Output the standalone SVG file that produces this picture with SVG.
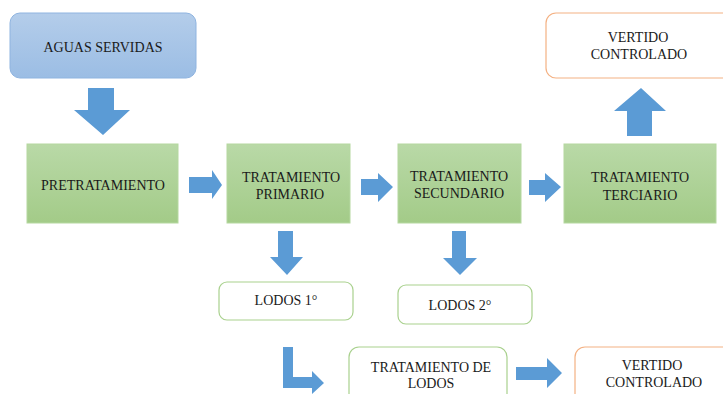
<svg xmlns="http://www.w3.org/2000/svg" width="723" height="394" viewBox="0 0 723 394" font-family="'Liberation Serif', 'Times New Roman', serif">
<defs>
<linearGradient id="gBlue" x1="0" y1="0" x2="0" y2="1"><stop offset="0" stop-color="#b4cdea"/><stop offset="1" stop-color="#9bbde4"/></linearGradient>
<linearGradient id="gGreen" x1="0" y1="0" x2="0" y2="1"><stop offset="0" stop-color="#b9d9a7"/><stop offset="1" stop-color="#a3cb88"/></linearGradient>
</defs>
<style>
text{font-family:'Liberation Serif','Times New Roman',serif;font-size:14px;fill:#1a1a1a;text-anchor:middle}
.blue{fill:url(#gBlue);stroke:#8fb4e0;stroke-width:1}
.green{fill:url(#gGreen);stroke:#b5d8a0;stroke-width:1}
.gout{fill:#fff;stroke:#a9d18e;stroke-width:1.2}
.oout{fill:#fff;stroke:#f4b183;stroke-width:1.2}
.arr{fill:#5b9bd5;stroke:none}
</style>
<g id="aguas"><rect class="blue" x="10" y="13" width="186" height="65" rx="10"/><text x="103" y="52">AGUAS SERVIDAS</text></g>
<g id="vertido1"><rect class="oout" x="546" y="13" width="190" height="65" rx="10"/><text x="638" y="42">VERTIDO</text><text x="639" y="59">CONTROLADO</text></g>
<g id="pretratamiento"><rect class="green" x="27" y="144" width="151" height="79"/><text x="103" y="190">PRETRATAMIENTO</text></g>
<g id="primario"><rect class="green" x="227" y="144" width="123" height="79"/><text x="291" y="182">TRATAMIENTO</text><text x="290" y="199">PRIMARIO</text></g>
<g id="secundario"><rect class="green" x="398" y="144" width="123" height="79"/><text x="459" y="181">TRATAMIENTO</text><text x="459" y="198">SECUNDARIO</text></g>
<g id="terciario"><rect class="green" x="564" y="144" width="152" height="79"/><text x="640" y="182">TRATAMIENTO</text><text x="640" y="200">TERCIARIO</text></g>
<g id="lodos1"><rect class="gout" x="219" y="282" width="134" height="38" rx="8"/><text x="286" y="305">LODOS 1°</text></g>
<g id="lodos2"><rect class="gout" x="398" y="285" width="134" height="39" rx="8"/><text x="460" y="310">LODOS 2°</text></g>
<g id="tratlodos"><rect class="gout" x="349" y="347" width="158" height="60" rx="10"/><text x="431" y="372">TRATAMIENTO DE</text><text x="431" y="388">LODOS</text></g>
<g id="vertido2"><rect class="oout" x="575" y="347" width="160" height="60" rx="10"/><text x="652" y="370">VERTIDO</text><text x="654" y="387">CONTROLADO</text></g>
<g id="connectors">
<polygon class="arr" points="88,88 114,88 114,110 130,110 103,135 74,110 88,110"/>
<polygon class="arr" points="189,177 212,177 212,170 222,185 212,199 212,193 189,193"/>
<polygon class="arr" points="361,179 378,179 378,173 393,187 378,202 378,195 361,195"/>
<polygon class="arr" points="529,180 545,180 545,173 561,187 545,202 545,195 529,195"/>
<polygon class="arr" points="627,136 652,136 652,111 666,111 641,88 614,111 627,111"/>
<polygon class="arr" points="278,231 293,231 293,257 303,257 287,275 270,257 278,257"/>
<polygon class="arr" points="452,231 466,231 466,258 477,258 460,275 443,258 452,258"/>
<polygon class="arr" points="283,347 293,347 293,377 312,377 312,371 324,383 312,394 312,388 283,388"/>
<polygon class="arr" points="516,367 547,367 547,358 562,373 547,388 547,380 516,380"/>
</g>
</svg>
